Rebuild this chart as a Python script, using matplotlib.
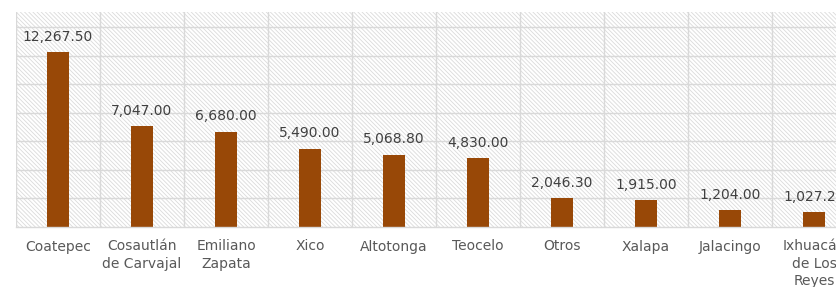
import matplotlib
matplotlib.use("Agg")
import matplotlib.pyplot as plt
from matplotlib.patches import Rectangle
import numpy as np

categories = ['Coatepec', 'Cosautlán\nde Carvajal', 'Emiliano\nZapata', 'Xico', 'Altotonga',
              'Teocelo', 'Otros', 'Xalapa', 'Jalacingo', 'Ixhuacán\nde Los\nReyes']
values = [12267.50, 7047.00, 6680.00, 5490.00, 5068.80, 4830.00, 2046.30, 1915.00, 1204.00, 1027.20]

plt.rcParams['font.family'] = ['DejaVu Sans']
plt.rcParams['hatch.linewidth'] = 0.6
plt.rcParams['hatch.color'] = '#dadada'

fig = plt.figure(figsize=(8.37, 2.87), dpi=100)
ax = fig.add_axes([16/837, 60/287, 840/837, 215/287])

ax.add_patch(Rectangle((0, 0), 1, 1, transform=ax.transAxes, facecolor='white',
                       edgecolor='#dadada', hatch='\\' * 8, linewidth=0, zorder=0))

x = np.arange(len(categories))
ax.bar(x, values, width=0.26, color='#984807', zorder=3)

ax.set_xlim(-0.5, len(categories) - 0.5)
ax.set_ylim(0, 15050)

for yv in range(2000, 14001, 2000):
    ax.axhline(yv, color='#d9d9d9', linewidth=1.0, zorder=1)
for xv in np.arange(-0.5, len(categories), 1.0):
    ax.axvline(xv, color='#d9d9d9', linewidth=1.0, zorder=1)

for xi, v in zip(x, values):
    ax.annotate(f'{v:,.2f}', (xi, v), xytext=(0, 8), textcoords='offset points',
                ha='center', va='baseline', fontsize=10, color='#404040', zorder=4)

ax.set_xticks(x)
ax.set_xticklabels(categories, fontsize=10, color='#595959', linespacing=1.3, va='top')
ax.tick_params(axis='x', length=0, pad=9)
ax.set_yticks([])
for s in ['top', 'right', 'left']:
    ax.spines[s].set_visible(False)
ax.spines['bottom'].set_color('#d9d9d9')
ax.spines['bottom'].set_linewidth(1.0)
ax.spines['bottom'].set_zorder(5)

fig.savefig('out.png', dpi=100)
